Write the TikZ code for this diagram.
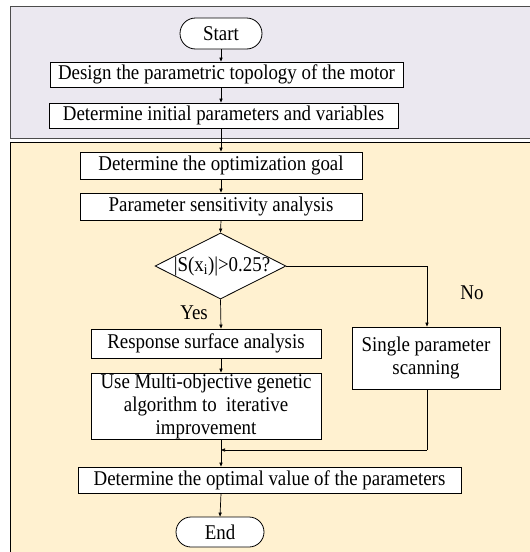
\documentclass[tikz,border=0pt]{standalone}
\usepackage{fontspec}
\setmainfont[FakeStretch=0.9]{Liberation Serif}
\usetikzlibrary{shapes.geometric,shapes.misc,arrows.meta}
\begin{document}
\begin{tikzpicture}[x=1pt,y=-1pt,
  every node/.style={font=\fontsize{21}{23}\selectfont},
  procbox/.style={draw=black,line width=0.8pt,fill=white,inner sep=0pt,align=center},
  termbox/.style={draw=black,line width=0.8pt,fill=white,rounded rectangle,inner sep=0pt},
  decbox/.style={draw=black,line width=0.8pt,fill=white,diamond,inner sep=0pt},
  flow/.style={line width=0.7pt,-{Triangle[length=4pt,width=3.2pt]}},
  plain/.style={line width=0.7pt}]
\useasboundingbox (0,0) rectangle (530,552);
\clip (0,0) rectangle (530,552);
\definecolor{toppanel}{HTML}{EBE8F0}
\definecolor{botpanel}{HTML}{FFF1D0}
\filldraw[fill=toppanel,draw=black!70,line width=1pt] (10,6) rectangle (540,138);
\filldraw[fill=botpanel,draw=black,line width=1pt] (10,142) rectangle (540,570);
\node[termbox,minimum width=82pt,minimum height=31pt] (st) at (221,33.5) {Start};
\node[procbox,minimum width=353pt,minimum height=25pt] (b1) at (226.5,74.5) {Design the parametric topology of the motor};
\node[procbox,minimum width=349pt,minimum height=25pt] (b2) at (223.5,115.5) {Determine initial parameters and variables};
\node[procbox,minimum width=282pt,minimum height=27pt] (b3) at (221,165.5) {Determine the optimization goal};
\node[procbox,minimum width=282pt,minimum height=27pt] (b4) at (221,206.5) {Parameter sensitivity analysis};
\node[decbox,minimum width=131pt,minimum height=66pt] (d) at (220.5,266) {};
\node (dt) at (222,266) {|S(x\textsubscript{i})|>0.25?};
\node[procbox,minimum width=230pt,minimum height=29pt] (rs) at (206,343.5) {Response surface analysis};
\node[procbox,minimum width=230pt,minimum height=66pt] (mo) at (206,406) {Use Multi-objective genetic\\algorithm to\ \ iterative\\improvement};
\node[procbox,minimum width=148pt,minimum height=62pt] (sp) at (426,358) {Single parameter\\scanning};
\node[procbox,minimum width=383pt,minimum height=26pt] (fv) at (269.5,480) {Determine the optimal value of the parameters};
\node[termbox,minimum width=88pt,minimum height=30pt] (en) at (220,532) {End};
\node (yes) at (194,313) {Yes};
\node (no) at (472,293) {No};
\coordinate (ax) at (221,0);
\coordinate (corner) at (427,266);
\coordinate (jn) at (427,450);
\draw[flow] (st.south) -- (b1.north -| ax);
\draw[flow] (b1.south -| ax) -- (b2.north -| ax);
\draw[flow] (b2.south -| ax) -- (b3.north -| ax);
\draw[flow] (b3.south -| ax) -- (b4.north -| ax);
\draw[flow] (b4.south -| ax) -- (d.north);
\draw[flow] (d.south) -- (rs.north -| ax);
\draw[flow] (rs.south -| ax) -- (mo.north -| ax);
\draw[flow] (mo.south -| ax) -- (fv.north -| ax);
\draw[plain] (d.east) -- (corner);
\draw[flow] (corner) -- (sp.north -| corner);
\draw[plain] (sp.south -| corner) -- (jn);
\draw[flow] (jn) -- (jn -| ax);
\draw[flow] (fv.south -| ax) -- (en.north);
\end{tikzpicture}
\end{document}
